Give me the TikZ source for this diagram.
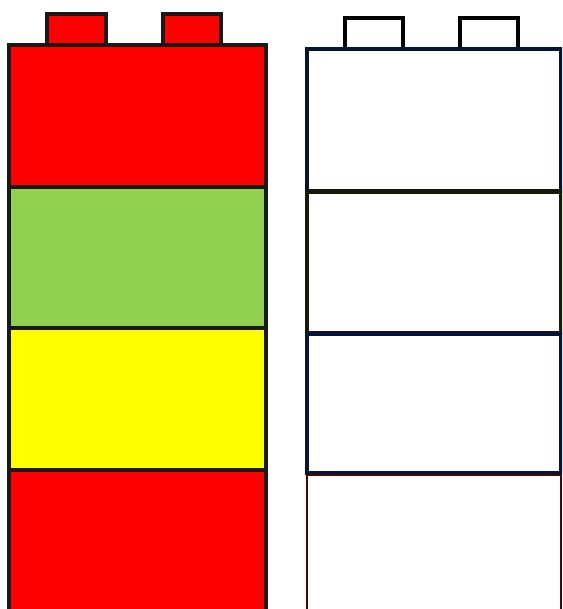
\documentclass[tikz,border=0pt]{standalone}
\definecolor{legored}{RGB}{255,0,0}
\definecolor{legogreen}{RGB}{146,208,80}
\definecolor{legoyellow}{RGB}{255,255,0}
\definecolor{edgeA}{RGB}{5,20,50}
\definecolor{edgeB}{RGB}{25,25,5}
\definecolor{edgeC}{RGB}{5,20,55}
\definecolor{edgeD}{RGB}{80,5,5}
\tikzset{
  brick/.style={draw=black!90, line width=3.2pt, line join=miter},
  emptybrick/.style={fill=white, line width=3.2pt, line join=miter},
}
\begin{document}
\begin{tikzpicture}[x=1pt,y=-1pt]
\useasboundingbox (0,0) rectangle (562,609);
\clip (0,0) rectangle (562,609);
\fill[white] (0,0) rectangle (562,609);
% left tower
\draw[brick, fill=legored] (47,14) rectangle (106,45);
\draw[brick, fill=legored] (163,14) rectangle (221,45);
\draw[brick, fill=legored] (9,45) rectangle (266,187);
\draw[brick, fill=legogreen] (9,187) rectangle (266,328);
\draw[brick, fill=legoyellow] (9,328) rectangle (266,470);
\draw[brick, fill=legored] (9,470) rectangle (266,620);
% right tower
\draw[emptybrick, draw=black] (345,18) rectangle (403,49);
\draw[emptybrick, draw=black] (460,18) rectangle (518,49);
\draw[emptybrick, draw=edgeA] (307,49) rectangle (561,191);
\draw[emptybrick, draw=edgeB] (307,192) rectangle (561,333);
\draw[emptybrick, draw=edgeC] (307,334) rectangle (561,473);
\draw[emptybrick, draw=edgeD, line width=2.4pt] (307,475) rectangle (561,620);
\end{tikzpicture}
\end{document}
